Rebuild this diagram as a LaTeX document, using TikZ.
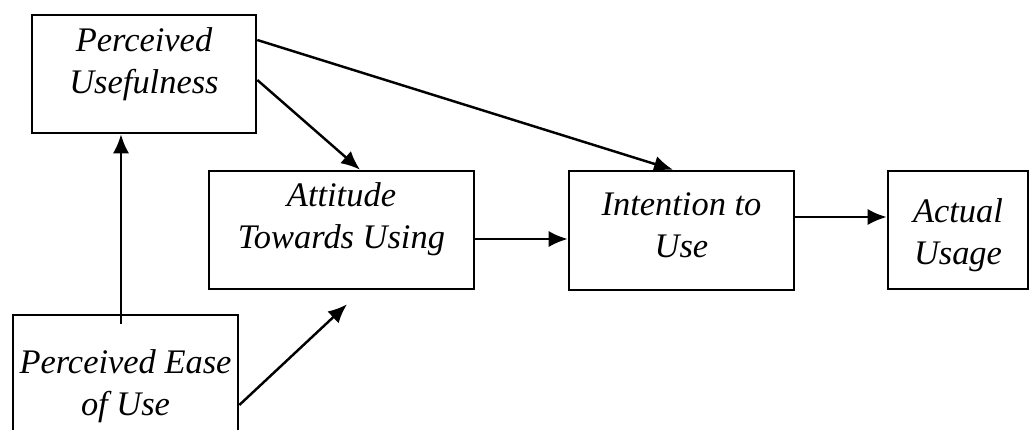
\documentclass[tikz,border=0pt]{standalone}
\usepackage{fontspec}
\setmainfont{Liberation Serif}
\usepackage{tikz}
\usetikzlibrary{arrows.meta, positioning}

\tikzset{
    tambox/.style={draw, line width=0.75pt, rectangle, minimum height=1.18cm, inner sep=0pt},
    tamtext/.style={font=\fontsize{9.8}{11.9}\selectfont\itshape, align=center},
    tamarrow/.style={line width=0.7pt, -{Latex[length=5.4pt, width=4.6pt]}},
}

\begin{document}
\begin{tikzpicture}
    \useasboundingbox (0, 0) rectangle (10.30, -4.29);

    % boxes
    \node[tambox, minimum width=2.24cm, label={[tamtext, yshift=0.10cm]center:Perceived\\Usefulness}] (pu) at (1.44, -0.74) {};
    \node[tambox, minimum width=2.65cm, label={[tamtext, yshift=0.11cm]center:Attitude\\Towards Using}] (att) at (3.415, -2.30) {};
    \node[tambox, minimum width=2.25cm, minimum height=1.19cm, label={[tamtext, yshift=0.05cm]center:Intention to\\Use}] (int) at (6.815, -2.305) {};
    \node[tambox, minimum width=1.40cm, label={[tamtext, yshift=-0.055cm]center:Actual\\Usage}] (act) at (9.58, -2.30) {};
    \node[tambox, minimum width=2.25cm, label={[tamtext, yshift=-0.12cm]center:Perceived Ease\\of Use}] (peou) at (1.255, -3.74) {};

    % arrows
    \draw[tamarrow] ([xshift=-0.045cm, yshift=-0.10cm]peou.north) -- ([xshift=-0.045cm]peou.north |- pu.south);
    \draw[tamarrow] ([yshift=-0.06cm]pu.east) -- ([xshift=0.185cm]att.north);
    \draw[tamarrow] ([yshift=0.34cm]pu.east) -- ([xshift=-0.085cm]int.north);
    \draw[tamarrow] ([yshift=-0.09cm]att.east) -- ([yshift=-0.09cm]att.east -| int.west);
    \draw[tamarrow] ([yshift=0.135cm]int.east) -- ([yshift=0.135cm]int.east -| act.west);
    \coordinate (atttip) at ([xshift=0.055cm, yshift=-0.14cm]att.south);
    \draw[tamarrow] ([yshift=-0.31cm]peou.east) -- (atttip);
\end{tikzpicture}
\end{document}
